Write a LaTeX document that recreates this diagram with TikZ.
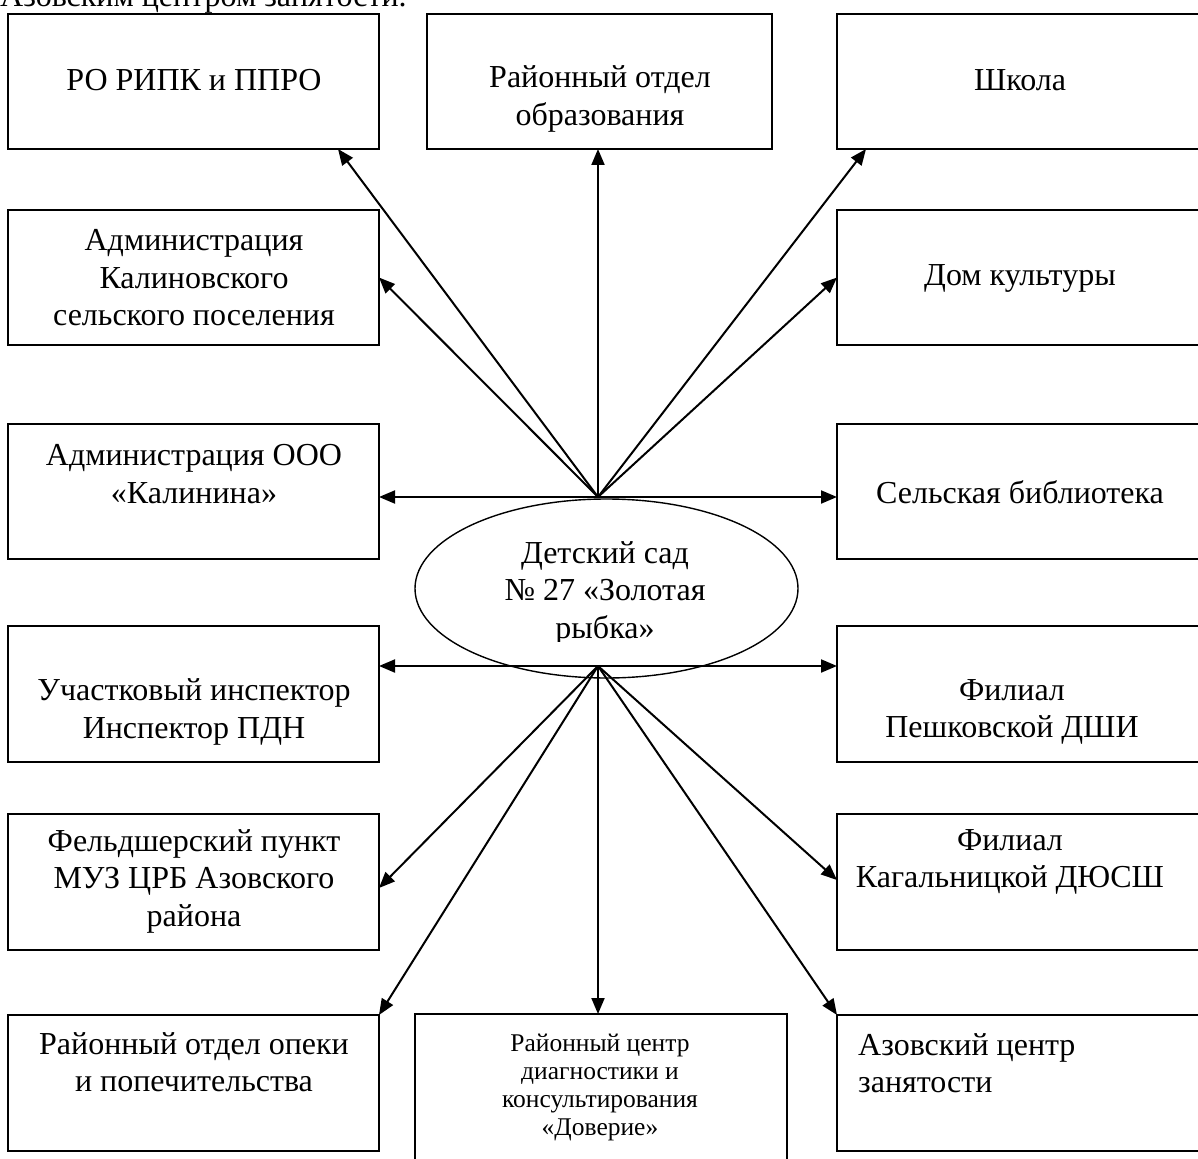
\documentclass[tikz,border=0pt]{standalone}
\usepackage{fontspec}
\setmainfont{Liberation Serif}
\usetikzlibrary{arrows.meta,shapes.geometric,calc}
\begin{document}
\begin{tikzpicture}[x=1pt,y=-1pt,
  box/.style={draw,line width=2pt,rectangle,anchor=north west,inner sep=0pt,outer sep=0pt},
  lbl/.style={align=center,inner sep=0pt,font=\fontsize{32}{37.5}\selectfont},
  small/.style={align=center,inner sep=0pt,font=\fontsize{25.5}{28}\selectfont},
  conn/.style={line width=2pt,-{Triangle[length=16pt,width=13pt]}}]
\useasboundingbox (0,0) rectangle (1198,1158);
\clip (0,0) rectangle (1198,1158);

% text above the diagram (cut off)
\node[lbl,anchor=base west] (above) at (0,7) {Азовским центром занятости.};

% boxes
\node[box,minimum width=371pt,minimum height=135pt] (r1l) at (8,14) {};
\node[box,minimum width=345pt,minimum height=135pt] (r1m) at (427,14) {};
\node[box,minimum width=370pt,minimum height=135pt] (r1r) at (837,14) {};
\node[box,minimum width=371pt,minimum height=135pt] (r2l) at (8,210) {};
\node[box,minimum width=370pt,minimum height=135pt] (r2r) at (837,210) {};
\node[box,minimum width=371pt,minimum height=135pt] (r3l) at (8,424) {};
\node[box,minimum width=370pt,minimum height=135pt] (r3r) at (837,424) {};
\node[box,minimum width=371pt,minimum height=136pt] (r4l) at (8,626) {};
\node[box,minimum width=370pt,minimum height=136pt] (r4r) at (837,626) {};
\node[box,minimum width=371pt,minimum height=136pt] (r5l) at (8,814) {};
\node[box,minimum width=370pt,minimum height=136pt] (r5r) at (837,814) {};
\node[box,minimum width=371pt,minimum height=136pt] (r6l) at (8,1015) {};
\node[box,minimum width=372pt,minimum height=160pt] (r6m) at (415,1014) {};
\node[box,minimum width=370pt,minimum height=136pt] (r6r) at (837,1015) {};

% central ellipse
\node[draw,ellipse,line width=1.4pt,minimum width=383pt,minimum height=179pt,inner sep=0pt] (hub) at (606.5,588.5) {};
\begin{scope}
\clip (400,500) rectangle (810,641);
\node[lbl] (thub) at (605,593) {Детский сад\\№ 27 «Золотая\\рыбка»};
\end{scope}

% texts
\node[lbl] (t1l) at (194,80) {РО РИПК и ППРО};
\node[lbl] (t1m) at (600,99) {Районный отдел\\образования};
\node[lbl] (t1r) at (1020,80) {Школа};
\node[lbl] (t2l) at (194,278) {Администрация\\Калиновского\\сельского поселения};
\node[lbl] (t2r) at (1020,278) {Дом культуры};
\node[lbl] (t3l) at (194,474) {Администрация ООО\\«Калинина»};
\node[lbl] (t3r) at (1020,492) {Сельская библиотека};
\node[lbl] (t4l) at (194,712) {Участковый инспектор\\Инспектор ПДН};
\node[lbl] (t4r) at (1012,712) {Филиал\\Пешковской ДШИ};
\node[lbl] (t5l) at (194,881) {Фельдшерский пункт\\МУЗ ЦРБ Азовского\\района};
\node[lbl] (t5r) at (1010,862) {Филиал\\Кагальницкой ДЮСШ};
\node[lbl] (t6l) at (194,1062) {Районный отдел опеки\\и попечительства};
\node[small] (t6m) at (600,1087) {Районный центр\\диагностики и\\консультирования\\«Доверие»};
\node[lbl,align=left,anchor=west] (t6r) at (858,1063) {Азовский центр\\занятости};

% hub points
\coordinate (ht) at (598,497);
\coordinate (hb) at (598,666);

% connectors from the top hub
\draw[conn] (ht) -- ([xshift=-41pt]r1l.south east);
\draw[conn] (ht) -- (ht |- r1m.south);
\draw[conn] (ht) -- ([xshift=29pt]r1r.south west);
\draw[conn] (ht) -- (r2l.east);
\draw[conn] (ht) -- (r2r.west);
\draw[conn] (ht) -- (ht -| r3l.east);
\draw[conn] (ht) -- (ht -| r3r.west);

% connectors from the bottom hub
\draw[conn] (hb) -- (hb -| r4l.east);
\draw[conn] (hb) -- (hb -| r4r.west);
\draw[conn] (hb) -- ([yshift=-6pt]r5l.east);
\draw[conn] (hb) -- ([yshift=2pt]r5r.west);
\draw[conn] (hb) -- (r6l.north east);
\draw[conn] (hb) -- (hb |- r6m.north);
\draw[conn] (hb) -- (r6r.north west);
\end{tikzpicture}
\end{document}
